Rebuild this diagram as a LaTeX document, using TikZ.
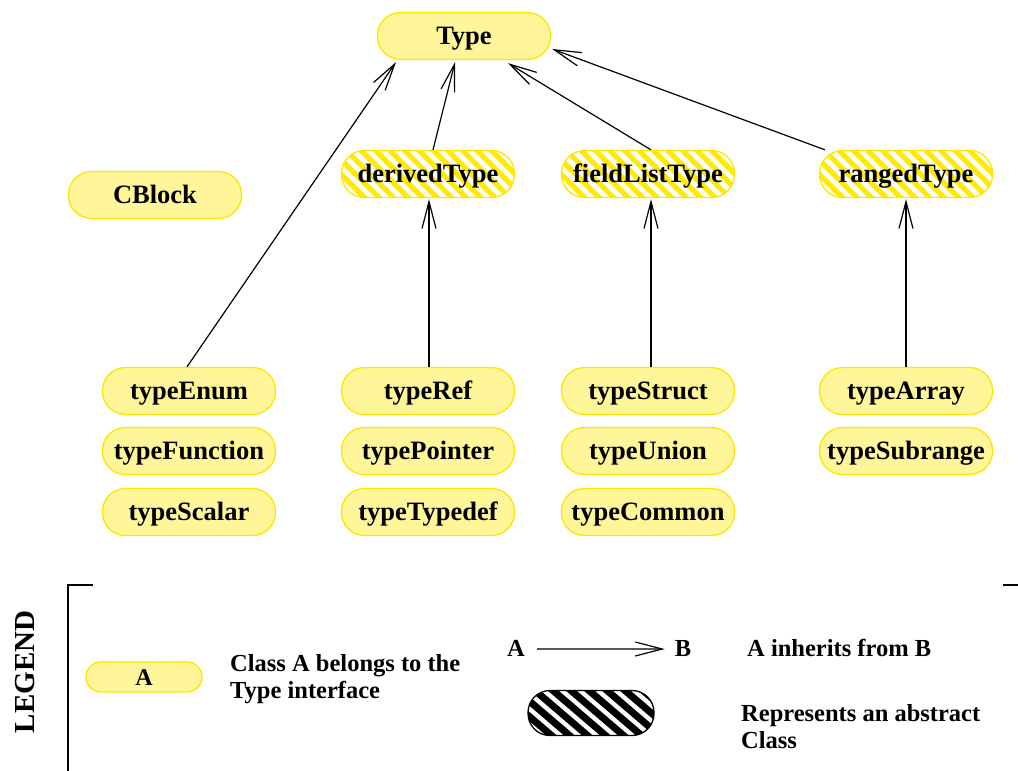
\documentclass[tikz,border=0pt]{standalone}
\usepackage{fontspec}
\setmainfont{Liberation Serif}
\usetikzlibrary{arrows.meta}
\definecolor{clsfill}{HTML}{FFF599}
\definecolor{clsline}{HTML}{FFE600}
\definecolor{stripecol}{HTML}{FFEA00}
\begin{document}
\begin{tikzpicture}[x=1pt,y=-1pt,
  cls/.style={draw=clsline, line width=1.3pt, fill=clsfill, rounded corners=23pt,
    minimum width=173pt, minimum height=47pt, inner sep=0pt,
    text height=20pt, text depth=4pt,
    font=\fontsize{26.5}{30}\selectfont\bfseries},
  abscls/.style={cls, fill=white,
    path picture={
      \foreach \i in {-5,...,13}
        \draw[stripecol, line width=5pt]
          ([xshift=\i*14.5pt, yshift=5pt]path picture bounding box.north west) -- ++(70,70);
    }},
  inh/.style={draw=black, line width=1.2pt, -{Straight Barb[length=27pt,width=14pt,line width=1.2pt]}},
  legtext/.style={font=\fontsize{24.5}{27}\selectfont\bfseries, inner sep=0pt, align=left},
  frame/.style={line width=2.3pt}
]
\useasboundingbox (0,0) rectangle (1018,771);

% top
\node[cls] (Type) at (464,36) {Type};
\node[cls] (CBlock) at (155,195) {CBlock};
\node[abscls] (derivedType) at (428,174) {derivedType};
\node[abscls] (fieldListType) at (648,174) {fieldListType};
\node[abscls] (rangedType) at (906,174) {rangedType};

\node[cls] (typeEnum) at (189,391) {typeEnum};
\node[cls] (typeFunction) at (189,451) {typeFunction};
\node[cls] (typeScalar) at (189,512) {typeScalar};
\node[cls] (typeRef) at (428,391) {typeRef};
\node[cls] (typePointer) at (428,451) {typePointer};
\node[cls] (typeTypedef) at (428,512) {typeTypedef};
\node[cls] (typeStruct) at (648,391) {typeStruct};
\node[cls] (typeUnion) at (648,451) {typeUnion};
\node[cls] (typeCommon) at (648,512) {typeCommon};
\node[cls] (typeArray) at (906,391) {typeArray};
\node[cls] (typeSubrange) at (906,451) {typeSubrange};

% inheritance
\draw[inh] ([xshift=-2pt]typeEnum.north) -- ([xshift=-68pt,yshift=-2pt]Type.south);
\draw[inh] ([xshift=5pt]derivedType.north) -- ([xshift=-9pt,yshift=-2pt]Type.south);
\draw[inh] ([xshift=3pt]fieldListType.north) -- ([xshift=44pt,yshift=-3pt]Type.south);
\draw[inh] ([xshift=-81pt]rangedType.north) -- ([xshift=1pt,yshift=-13pt]Type.east);
\draw[inh] ([xshift=1pt]typeRef.north) -- ([xshift=1pt,yshift=-1pt]derivedType.south);
\draw[inh] ([xshift=3pt]typeStruct.north) -- ([xshift=3pt,yshift=-1pt]fieldListType.south);
\draw[inh] (typeArray.north) -- ([yshift=-1pt]rangedType.south);

% legend frame
\coordinate (f1) at (93,585);
\coordinate (f2) at (68,585);
\coordinate (f3) at (68,771);
\coordinate (f4) at (1003,585);
\coordinate (f5) at (1018,585);
\draw[frame] (f1) -- (f2) -- (f3);
\draw[frame] (f4) -- (f5);
\node[rotate=90, font=\fontsize{29}{30}\selectfont\bfseries, inner sep=0pt] (legend) at (25,672) {LEGEND};

% legend items
\node[cls, minimum width=116pt, minimum height=30pt, rounded corners=15pt,
  text height=17pt, text depth=0pt,
  font=\fontsize{24}{27}\selectfont\bfseries] (lcls) at (144,677) {A};
\node[legtext, anchor=west] (lclstext) at (230,679) {Class A belongs to the\\Type interface};

\node[legtext, anchor=base] (lA) at (516,656) {A};
\node[legtext, anchor=base] (lB) at (683,656) {B};
\draw[inh] ([xshift=12pt,yshift=-1pt]lA.east) -- ([xshift=-10pt,yshift=-1pt]lB.west);
\node[legtext, anchor=base west] (linh) at (747,656) {A inherits from B};

\node[draw=black, line width=1.3pt, rounded corners=22pt, minimum width=126pt,
  minimum height=45pt, inner sep=0pt, fill=white,
  path picture={
    \foreach \i in {-5,...,8}
      \draw[black, line width=7pt]
        ([xshift=\i*18pt, yshift=6pt]path picture bounding box.north west) -- ++(70,60);
  }] (labs) at (591,713) {};
\node[legtext, anchor=west] (labstext) at (741,727) {Represents an abstract\\Class};
\end{tikzpicture}
\end{document}
